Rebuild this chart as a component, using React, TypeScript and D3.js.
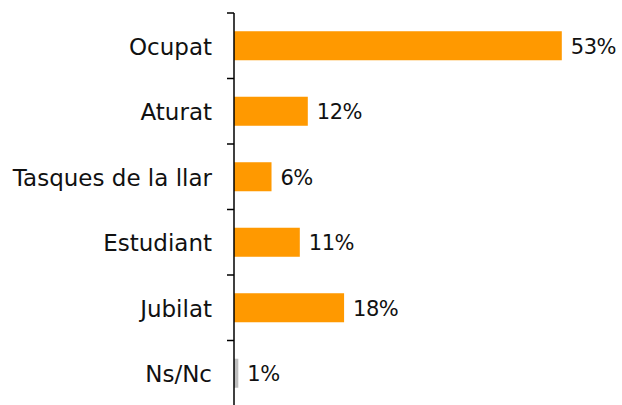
import React from "react";
import * as d3 from "d3";

const categories = ["Ocupat", "Aturat", "Tasques de la llar", "Estudiant", "Jubilat", "Ns/Nc"];
const values = [53.3, 12.0, 6.1, 10.7, 17.9, 0.7];
const valueLabels = ["53%", "12%", "6%", "11%", "18%", "1%"];
const barColors = ["#FF9900", "#FF9900", "#FF9900", "#FF9900", "#FF9900", "#BFBFBF"];

const W = 622;
const H = 405;
const axisX = 234;
const FONT = "'DejaVu Sans', sans-serif";

export default function App() {
  const x = d3.scaleLinear().domain([0, 60]).range([axisX, axisX + 60 * 6.15]);
  const y = d3.scaleBand<string>().domain(categories).range([13, 406]).paddingInner(0.557).paddingOuter(0.2785);
  const yTicks = d3.scaleBand<string>().domain(categories).range([13, 406]);
  const boundaries = categories.map((c) => yTicks(c) as number).concat([406]);

  return (
    <svg
      width={W}
      height={H}
      style={{ position: "absolute", left: 0, top: 0, background: "#fff" }}
    >
      {categories.map((c, i) => (
        <rect
          key={c}
          x={x(0)}
          y={y(c)}
          width={x(values[i]) - x(0)}
          height={y.bandwidth()}
          fill={barColors[i]}
        />
      ))}
      <line x1={axisX} x2={axisX} y1={13} y2={406} stroke="#000" strokeWidth={1.5} />
      {boundaries.map((b, i) => (
        <line key={i} x1={axisX - 7} x2={axisX} y1={b} y2={b} stroke="#000" strokeWidth={1.5} />
      ))}
      {categories.map((c, i) => (
        <text
          key={"l" + c}
          x={axisX - 22}
          y={(yTicks(c) as number) + yTicks.bandwidth() / 2 + 1}
          textAnchor="end"
          dominantBaseline="central"
          fontFamily={FONT}
          fontSize={23}
          fill="#111"
        >
          {c}
        </text>
      ))}
      {categories.map((c, i) => (
        <text
          key={"v" + c}
          x={x(values[i]) + 9}
          y={(yTicks(c) as number) + yTicks.bandwidth() / 2 + 1}
          dominantBaseline="central"
          fontFamily={FONT}
          fontSize={21}
          letterSpacing={-0.5}
          fill="#111"
        >
          {valueLabels[i]}
        </text>
      ))}
    </svg>
  );
}
